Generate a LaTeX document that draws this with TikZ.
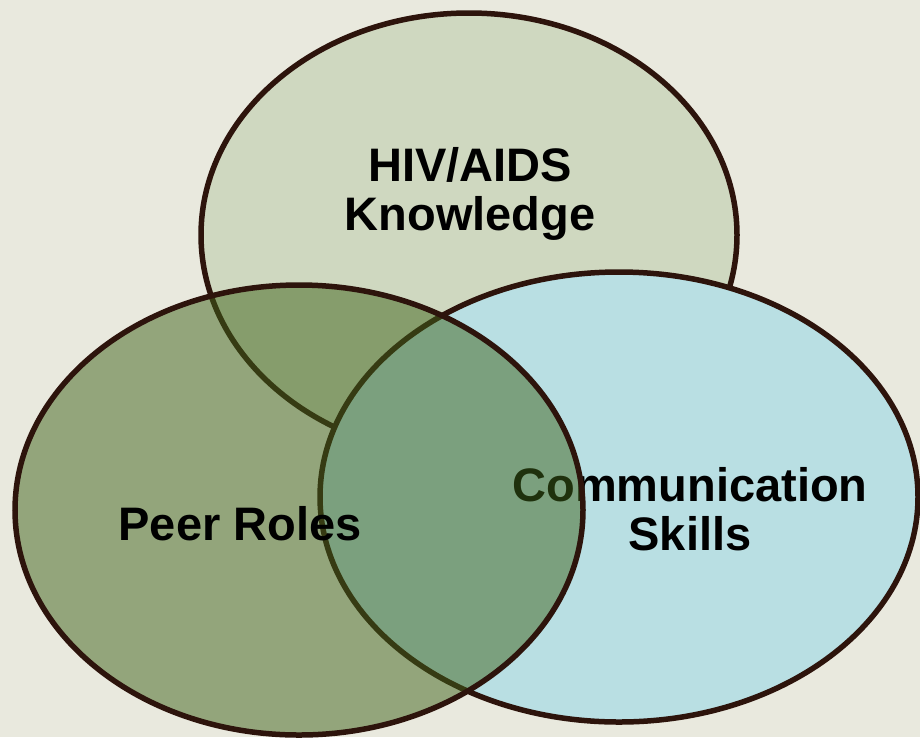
\documentclass[tikz,border=0pt]{standalone}
\usepackage{fontspec}
\setmainfont{Liberation Sans}
\definecolor{bgc}{RGB}{233,233,222}
\definecolor{topc}{RGB}{207,216,192}
\definecolor{rightc}{RGB}{185,223,227}
\definecolor{leftc}{RGB}{63,99,26}
\definecolor{linec}{RGB}{45,20,12}
\tikzset{
  ring/.style={draw=linec, line width=5.5pt},
  lbl/.style={inner sep=0pt, align=center, text=black, font=\fontsize{47}{49}\selectfont\bfseries, anchor=base}
}
\begin{document}
\begin{tikzpicture}[x=1pt,y=-1pt]
\useasboundingbox (0,0) rectangle (920,737);
\fill[bgc] (0,0) rectangle (920,737);
\clip (0,0) rectangle (920,737);
% top ellipse
\fill[topc] (469,235) ellipse [x radius=268, y radius=222];
\draw[ring] (469,235) ellipse [x radius=268, y radius=222];
\node[lbl] (hiv) at (470,230) {HIV/AIDS\\Knowledge};
% right ellipse
\fill[rightc] (619,497) ellipse [x radius=299, y radius=225];
\draw[ring] (619,497) ellipse [x radius=299, y radius=225];
\node[lbl] (comm) at (690,550) {Communication\\Skills};
% left ellipse (semi-transparent)
\fill[leftc, fill opacity=0.5] (299,510) ellipse [x radius=284, y radius=225];
\draw[ring] (299,510) ellipse [x radius=284, y radius=225];
\node[lbl] (peer) at (240,540) {Peer Roles};
\end{tikzpicture}
\end{document}
